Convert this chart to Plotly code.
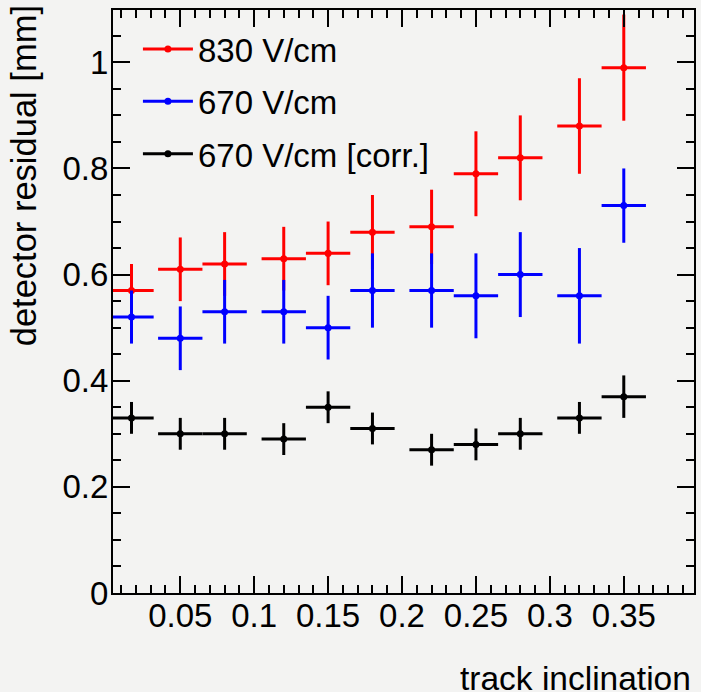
import plotly.graph_objects as go

# x positions (track inclination) and half bin widths
x_vals = [0.017, 0.05, 0.08, 0.12, 0.15, 0.18, 0.22, 0.25, 0.28, 0.32, 0.35]
x_err = [0.015] * 11

# 830 V/cm
red_y = [0.57, 0.61, 0.62, 0.63, 0.64, 0.68, 0.69, 0.79, 0.82, 0.88, 0.99]
red_e = [0.05, 0.06, 0.06, 0.06, 0.06, 0.07, 0.07, 0.08, 0.08, 0.09, 0.10]
# 670 V/cm
blue_y = [0.52, 0.48, 0.53, 0.53, 0.50, 0.57, 0.57, 0.56, 0.60, 0.56, 0.73]
blue_e = [0.05, 0.06, 0.06, 0.06, 0.06, 0.07, 0.07, 0.08, 0.08, 0.09, 0.07]
# 670 V/cm [corr.]
black_y = [0.33, 0.30, 0.30, 0.29, 0.35, 0.31, 0.27, 0.28, 0.30, 0.33, 0.37]
black_e = [0.03, 0.03, 0.03, 0.03, 0.03, 0.03, 0.03, 0.03, 0.03, 0.03, 0.04]

series = [
    ("830 V/cm", red_y, red_e, "#ff0000"),
    ("670 V/cm", blue_y, blue_e, "#0000ff"),
    ("670 V/cm [corr.]", black_y, black_e, "#000000"),
]

FONT = "Liberation Sans, Arial, Helvetica, sans-serif"
BG = "#f3f3f2"

fig = go.Figure()
for i, (name, ys, es, col) in enumerate(series):
    fig.add_trace(go.Scatter(
        x=x_vals, y=ys, mode="markers", showlegend=False,
        marker=dict(color=col, size=7),
        error_y=dict(type="data", array=es, visible=True, color=col, thickness=3, width=0),
        error_x=dict(type="data", array=x_err, visible=True, color=col, thickness=3, width=0),
        cliponaxis=True,
    ))
for i, (name, ys, es, col) in enumerate(series):
    fig.add_trace(go.Scatter(
        x=[None], y=[None], mode="lines+markers", name=name,
        legendgroup=f"g{i}", showlegend=True,
        line=dict(color=col, width=3), marker=dict(color=col, size=7),
    ))

axis_common = dict(
    showgrid=False, zeroline=False, showline=True, linecolor="black", linewidth=2,
    mirror="ticks", ticks="inside", ticklen=17, tickwidth=2, tickcolor="black",
    tickfont=dict(family=FONT, size=33, color="black"),
)
fig.update_xaxes(range=[0.0045, 0.3975], tick0=0, dtick=0.05, ticklabelstandoff=-8,
                 minor=dict(dtick=0.01, ticks="inside", ticklen=8, tickwidth=2, tickcolor="black"),
                 **axis_common)
fig.update_yaxes(range=[0, 1.0986], tick0=0, dtick=0.2, ticklabelstandoff=-4,
                 minor=dict(dtick=0.05, ticks="inside", ticklen=8, tickwidth=2, tickcolor="black"),
                 **axis_common)

fig.add_annotation(text="track inclination", xref="paper", yref="paper",
                   x=0.9966, y=-0.147, xanchor="right", yanchor="middle", showarrow=False,
                   borderpad=0,
                   font=dict(family=FONT, size=33.5, color="black"))
fig.add_annotation(text="detector residual [mm]", xref="paper", yref="paper",
                   x=-0.1518, y=1.0103, xanchor="center", yanchor="top", textangle=-90,
                   showarrow=False, borderpad=0,
                   font=dict(family=FONT, size=34.5, color="black"))

fig.update_layout(
    width=701, height=692,
    margin=dict(l=113, r=5, t=10, b=99),
    paper_bgcolor=BG, plot_bgcolor=BG,
    showlegend=True,
    legend=dict(x=0.0429, y=0.981, xanchor="left", yanchor="top",
                bgcolor="rgba(0,0,0,0)", borderwidth=0,
                font=dict(family=FONT, size=33, color="black"),
                tracegroupgap=6.4, itemwidth=50),
)

fig.write_html("out.html", config={"displayModeBar": False},
               post_script="document.body.style.margin='0';document.body.style.padding='0';"
                           "document.documentElement.style.overflow='hidden';")
